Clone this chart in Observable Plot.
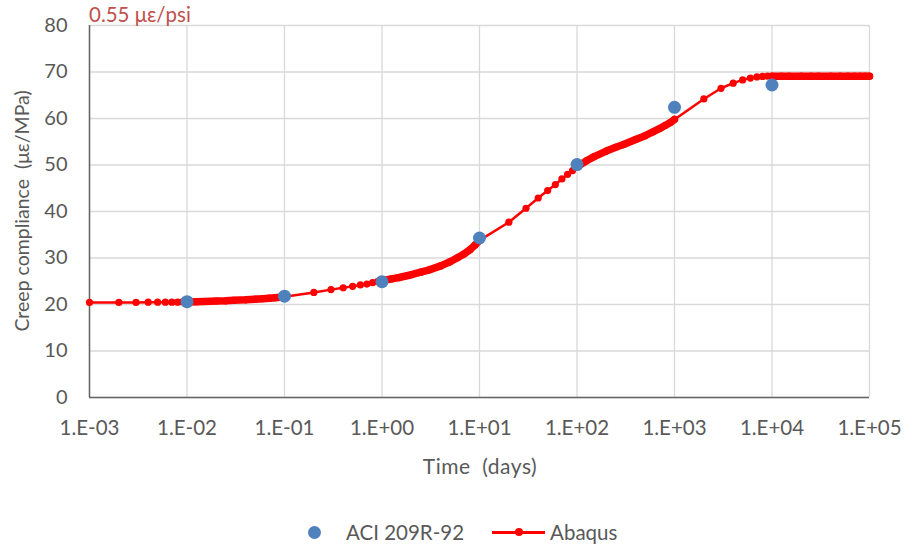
<!DOCTYPE html>
<html>
<head>
<meta charset="utf-8">
<script src="https://cdn.jsdelivr.net/npm/d3@7"></script>
<script src="https://cdn.jsdelivr.net/npm/@observablehq/plot@0.6"></script>
<style>
  html, body { margin: 0; padding: 0; background: #fff; }
  #wrap { position: relative; width: 904px; height: 548px; font-family: Lato, "Open Sans", sans-serif; color: #595959; }
  .abs { position: absolute; white-space: pre; line-height: 1; }
  #title { left: 89px; top: 4px; font-size: 20.5px; color: #c0504d; }
  #ylab { left: 22px; top: 211px; font-size: 19.5px; transform: translate(-50%, -50%) rotate(-90deg); }
  #xlab { left: 480px; top: 465px; font-size: 21px; letter-spacing: 0.5px; transform: translate(-50%, -50%); }
  #legend { left: 308px; top: 522px; display: flex; align-items: center; font-size: 20.5px; }
  .lg { display: flex; align-items: center; }
  .bdot { width: 13px; height: 13px; border-radius: 50%; background: #4f81bd; margin-right: 25px; }
  .rline { position: relative; width: 53px; height: 3px; background: #ff0000; margin-right: 5px; margin-left: 28px; }
  .rline::after { content: ""; position: absolute; left: 22.5px; top: -2.5px; width: 8px; height: 8px; border-radius: 50%; background: #ff0000; }
</style>
</head>
<body>
<div id="wrap">
  <div id="chart"></div>
  <div class="abs" id="title">0.55 με/psi</div>
  <div class="abs" id="ylab">Creep compliance  (με/MPa)</div>
  <div class="abs" id="xlab">Time  (days)</div>
  <div class="abs" id="legend">
    <div class="lg"><div class="bdot"></div><span>ACI 209R-92</span></div>
    <div class="lg"><div class="rline"></div><span>Abaqus</span></div>
  </div>
</div>
<script>
// ---- Data ----
const aciTime  = [0.01, 0.1, 1, 10, 100, 1000, 10000];
const aciValue = [20.6, 21.8, 24.9, 34.3, 50.1, 62.4, 67.2];

const abaqusTime = [
  0.001, 0.002, 0.003, 0.004, 0.005, 0.006, 0.007, 0.008, 0.009,
  0.01, 0.0125, 0.015, 0.02, 0.025, 0.03, 0.04, 0.05, 0.06, 0.07, 0.08, 0.09, 0.1,
  0.2, 0.3, 0.4, 0.5, 0.6, 0.7, 0.8, 0.9,
  1, 1.25, 1.5, 2, 2.5, 3, 4, 5, 6, 7, 8, 9, 10,
  20, 30, 40, 50, 60, 70, 80, 90,
  100, 125, 150, 200, 250, 300, 400, 500, 600, 700, 800, 900, 1000,
  2000, 3000, 4000, 5000, 6000, 7000, 8000, 9000,
  10000, 12500, 15000, 20000, 25000, 30000, 40000, 50000, 60000, 70000, 80000, 90000, 100000
];
const abaqusValue = [
  20.45, 20.45, 20.45, 20.5, 20.5, 20.5, 20.5, 20.5, 20.55,
  20.55, 20.6, 20.65, 20.75, 20.8, 20.9, 21.0, 21.15, 21.25, 21.35, 21.45, 21.55, 21.65,
  22.6, 23.2, 23.6, 23.9, 24.2, 24.4, 24.7, 24.9,
  25.1, 25.5, 25.8, 26.4, 26.95, 27.4, 28.3, 29.2, 30.1, 30.9, 31.8, 32.8, 33.8,
  37.7, 40.7, 42.9, 44.5, 45.8, 47.0, 48.0, 48.8,
  49.6, 50.9, 51.8, 53.0, 53.8, 54.4, 55.5, 56.3, 57.1, 57.8, 58.5, 59.1, 59.8,
  64.2, 66.5, 67.6, 68.3, 68.7, 68.95, 69.05, 69.1,
  69.1, 69.1, 69.1, 69.1, 69.1, 69.1, 69.1, 69.1, 69.1, 69.1, 69.1, 69.1, 69.1
];
// decades in which the Abaqus output is densely sampled
const denseDecades = [[0.01, 0.1], [1, 10], [100, 1000], [10000, 100000]];

const xTicks = [1e-3, 1e-2, 1e-1, 1e0, 1e1, 1e2, 1e3, 1e4, 1e5];
const xTickLabels = ["1.E-03", "1.E-02", "1.E-01", "1.E+00", "1.E+01", "1.E+02", "1.E+03", "1.E+04", "1.E+05"];
const yTicks = [0, 10, 20, 30, 40, 50, 60, 70, 80];

// ---- Build tables ----
const aci = aciTime.map((t, i) => ({t, v: aciValue[i]}));
const abaqus = abaqusTime.map((t, i) => ({t, v: abaqusValue[i]}));
const dense = denseDecades.map(([a, b]) => abaqus.filter(d => d.t >= a && d.t <= b));

const chart = Plot.plot({
  width: 904,
  height: 548,
  marginLeft: 89,
  marginRight: 35,
  marginTop: 25,
  marginBottom: 151,
  style: {fontFamily: "Lato, 'Open Sans', sans-serif", fontSize: "20px", color: "#595959", background: "transparent"},
  x: {type: "log", domain: [1e-3, 1e5]},
  y: {domain: [0, 80]},
  marks: [
    Plot.gridX(xTicks, {stroke: "#d9d9d9", strokeOpacity: 1, strokeWidth: 1.3}),
    Plot.gridY(yTicks, {stroke: "#d9d9d9", strokeOpacity: 1, strokeWidth: 1.3}),
    Plot.ruleX([1e-3], {stroke: "#666666", strokeWidth: 1.5}),
    Plot.ruleY([0], {stroke: "#666666", strokeWidth: 1.5}),
    Plot.axisX(xTicks, {tickSize: 0, tickPadding: 23, label: null, tickFormat: (d) => xTickLabels[xTicks.indexOf(d)], fill: "#595959", fontSize: 20.5}),
    Plot.axisY(yTicks, {tickSize: 0, tickPadding: 22, label: null, fill: "#595959", fontSize: 20}),
    ...dense.map(seg => Plot.line(seg, {x: "t", y: "v", stroke: "#ff0000", strokeWidth: 7.5, strokeLinecap: "round", strokeLinejoin: "round"})),
    Plot.line(abaqus, {x: "t", y: "v", stroke: "#ff0000", strokeWidth: 2.5}),
    Plot.dot(abaqus, {x: "t", y: "v", r: 3.6, fill: "#ff0000", stroke: "none"}),
    Plot.dot(aci, {x: "t", y: "v", r: 6.5, fill: "#4f81bd", stroke: "none"})
  ]
});
document.getElementById("chart").appendChild(chart);
</script>
</body>
</html>
